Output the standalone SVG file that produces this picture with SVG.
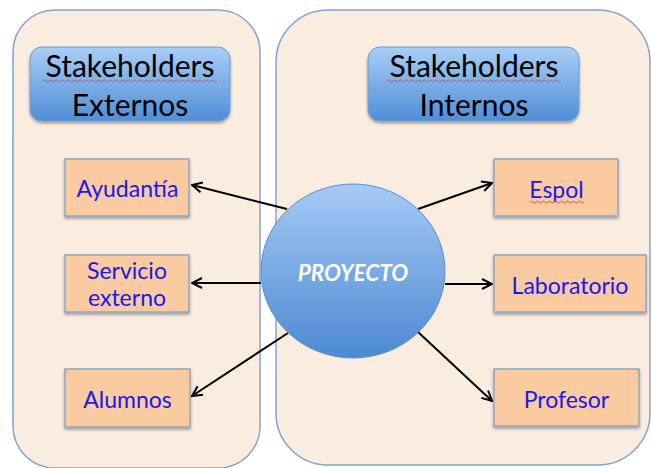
<svg xmlns="http://www.w3.org/2000/svg" width="651" height="468" viewBox="0 0 651 468">
<style>
.panel{fill:#FBECE0;stroke:#7FA5D0;stroke-width:1.5}
.hdr{fill:url(#hg);stroke:#6E9BD3;stroke-width:1}
.htx{font-family:Lato,"Liberation Sans",sans-serif;font-size:30px;fill:#000;text-anchor:middle}
.box{fill:#FACAA0;stroke:#8FA6C4;stroke-width:1.5}
.btx{font-family:Lato,"Liberation Sans",sans-serif;font-size:23px;fill:#1818F5;text-anchor:middle}
.conn{stroke:#000;stroke-width:2;fill:none;marker-end:url(#ah)}
.sq{stroke:#E04040;stroke-width:0.9;fill:none}
</style>
<defs>
<linearGradient id="hg" x1="0" y1="0" x2="0" y2="1">
<stop offset="0" stop-color="#A9CEF7"/>
<stop offset="1" stop-color="#4F8ED6"/>
</linearGradient>
<linearGradient id="cg" x1="0" y1="0" x2="0" y2="1">
<stop offset="0" stop-color="#A6CAF5"/>
<stop offset="1" stop-color="#4C8AD3"/>
</linearGradient>
<filter id="sh" x="-10%" y="-10%" width="120%" height="130%">
<feDropShadow dx="0" dy="2" stdDeviation="1.5" flood-color="#000" flood-opacity="0.35"/>
</filter>
<marker id="ah" viewBox="0 0 12 12" refX="11" refY="6" markerWidth="12" markerHeight="12" markerUnits="userSpaceOnUse" orient="auto">
<path d="M1,1 L11,6 L1,11" fill="none" stroke="#000" stroke-width="2"/>
</marker>
</defs>
<rect width="651" height="468" fill="#fff"/>
<g id="panel-externos">
<rect class="panel" x="13" y="10" width="247" height="458" rx="42"/>
</g>
<g id="panel-internos">
<rect class="panel" x="276" y="10" width="374" height="455" rx="52"/>
</g>
<g id="hdr-externos">
<rect class="hdr" x="30" y="47" width="200" height="74" rx="12" filter="url(#sh)"/>
<text class="htx" x="130" y="77">Stakeholders</text>
<text class="htx" x="130" y="116">Externos</text>
<path class="sq" d="M43,81 q1.5,-2 3,0 t3,0 t3,0 t3,0 t3,0 t3,0 t3,0 t3,0 t3,0 t3,0 t3,0 t3,0 t3,0 t3,0 t3,0 t3,0 t3,0 t3,0 t3,0 t3,0 t3,0 t3,0 t3,0 t3,0 t3,0 t3,0 t3,0 t3,0 t3,0 t3,0 t3,0 t3,0 t3,0 t3,0 t3,0 t3,0 t3,0 t3,0 t3,0 t3,0 t3,0 t3,0 t3,0 t3,0 t3,0 t3,0 t3,0 t3,0 t3,0 t3,0 t3,0 t3,0 t3,0 t3,0 t3,0 t3,0 t3,0 t3,0"/>
</g>
<g id="hdr-internos">
<rect class="hdr" x="368" y="47" width="211" height="74" rx="12" filter="url(#sh)"/>
<text class="htx" x="474" y="77">Stakeholders</text>
<text class="htx" x="474" y="116">Internos</text>
<path class="sq" d="M387,81 q1.5,-2 3,0 t3,0 t3,0 t3,0 t3,0 t3,0 t3,0 t3,0 t3,0 t3,0 t3,0 t3,0 t3,0 t3,0 t3,0 t3,0 t3,0 t3,0 t3,0 t3,0 t3,0 t3,0 t3,0 t3,0 t3,0 t3,0 t3,0 t3,0 t3,0 t3,0 t3,0 t3,0 t3,0 t3,0 t3,0 t3,0 t3,0 t3,0 t3,0 t3,0 t3,0 t3,0 t3,0 t3,0 t3,0 t3,0 t3,0 t3,0 t3,0 t3,0 t3,0 t3,0 t3,0 t3,0 t3,0 t3,0 t3,0 t3,0"/>
</g>
<g id="connectors">
<line class="conn" x1="287" y1="209" x2="192" y2="185"/>
<line class="conn" x1="261" y1="283" x2="192" y2="283"/>
<line class="conn" x1="288" y1="333" x2="192" y2="396"/>
<line class="conn" x1="418" y1="209" x2="492" y2="183"/>
<line class="conn" x1="445" y1="284" x2="492" y2="284"/>
<line class="conn" x1="418" y1="332" x2="492" y2="401"/>
</g>
<g id="proyecto">
<ellipse cx="353" cy="271" rx="92" ry="87" fill="url(#cg)" stroke="#5A8FCC" stroke-width="1"/>
<text x="353" y="281" font-family="Lato,'Liberation Sans',sans-serif" font-size="22.5" font-weight="bold" font-style="italic" fill="#fff" text-anchor="middle">PROYECTO</text>
</g>
<g id="ayudantia">
<rect class="box" x="65" y="159" width="124" height="57" filter="url(#sh)"/>
<text class="btx" x="127.5" y="197">Ayudantía</text>
</g>
<g id="servicio">
<rect class="box" x="65" y="255" width="124" height="57" filter="url(#sh)"/>
<text class="btx" x="127" y="279">Servicio</text>
<text class="btx" x="127" y="306">externo</text>
</g>
<g id="alumnos">
<rect class="box" x="65" y="369" width="125" height="58" filter="url(#sh)"/>
<text class="btx" x="127.5" y="408">Alumnos</text>
</g>
<g id="espol">
<rect class="box" x="494" y="159" width="124" height="57" filter="url(#sh)"/>
<text class="btx" x="556.5" y="198">Espol</text>
<path class="sq" d="M530,202 q1.5,-2 3,0 t3,0 t3,0 t3,0 t3,0 t3,0 t3,0 t3,0 t3,0 t3,0 t3,0 t3,0 t3,0 t3,0 t3,0 t3,0 t3,0 t3,0"/>
</g>
<g id="laboratorio">
<rect class="box" x="494" y="255" width="152" height="57" filter="url(#sh)"/>
<text class="btx" x="570" y="294">Laboratorio</text>
</g>
<g id="profesor">
<rect class="box" x="494" y="369" width="145" height="57" filter="url(#sh)"/>
<text class="btx" x="566.5" y="408">Profesor</text>
</g>
</svg>
